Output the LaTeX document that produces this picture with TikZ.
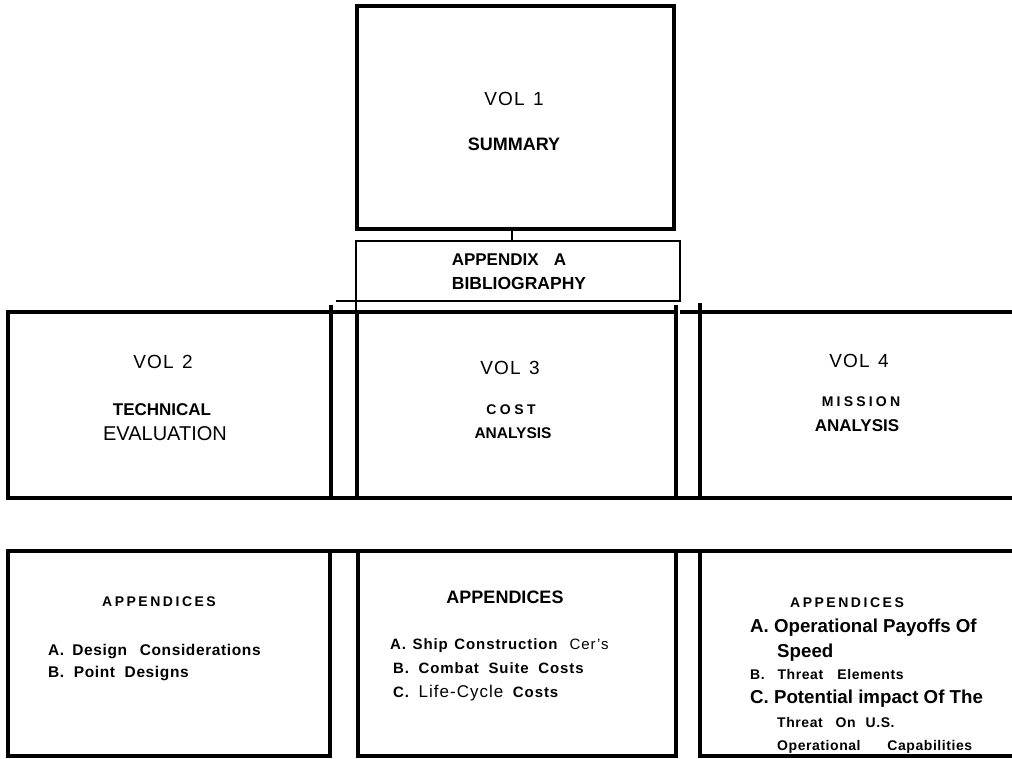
\documentclass[tikz,border=0pt]{standalone}
\usepackage{fontspec}
\setmainfont{Liberation Sans}
\usetikzlibrary{calc}

\newcommand\fs[1]{\fontsize{#1}{#1}\selectfont}
\newcommand\track[1]{\addfontfeature{LetterSpace=#1}}

\tikzset{
  box/.style={draw=black, line width=4pt, inner sep=0pt, outer sep=0pt, anchor=north west},
  lightbox/.style={box, line width=1.6pt},
  rule/.style={line width=4pt},
  hair/.style={line width=1.6pt},
  txt/.style={inner sep=0pt, anchor=base},
  item/.style={inner sep=0pt, anchor=base west}
}

\begin{document}
\begin{tikzpicture}[x=1pt, y=-1pt]
  \useasboundingbox[fill=white] (0,0) rectangle (1012,758);

  % volume 1 and its bibliography appendix
  \node[box, minimum width=317pt, minimum height=223pt] (v1) at (357,6) {};
  \node[lightbox, minimum width=324pt, minimum height=60pt] (appA) at (356,241) {};
  \coordinate (tick) at ($(v1.south)+(-3.5,0)$);
  \draw[hair] (tick) -- (tick |- appA.north);
  \draw[hair] (appA.south west) -- ++(-20,0);
  \draw[hair] (appA.south west) -- ++(0,52);

  % volumes 2 to 4
  \node[box, minimum width=323pt, minimum height=186pt] (v2) at (8,312) {};
  \node[box, minimum width=319pt, minimum height=186pt] (v3) at (357,312) {};
  \node[box, minimum width=340pt, minimum height=186pt] (v4) at (700,312) {};
  \draw[rule] (v2.north east) -- (v3.north west);
  \draw[rule] ($(v3.north east)+(4,0)$) -- (v4.north west);
  \draw[rule] (v2.south east) -- (v3.south west);
  \draw[rule] (v3.south east) -- (v4.south west);
  \draw[rule] (v2.north east) -- ++(0,-7);
  \draw[rule] (v3.north east) -- ++(0,-7);
  \draw[rule] (v4.north west) -- ++(0,-9);

  % appendix boxes
  \node[box, minimum width=322pt, minimum height=205pt] (a2) at (8,551) {};
  \node[box, minimum width=318pt, minimum height=205pt] (a3) at (358,551) {};
  \node[box, minimum width=340pt, minimum height=205pt] (a4) at (700,551) {};
  \draw[rule] (a2.north east) -- (a3.north west);
  \draw[rule] (a3.north east) -- (a4.north west);

  % volume titles
  \node[txt, font=\fs{19}\track{6}] (t1a) at (514,105) {VOL\hspace{0.45em}1};
  \node[txt, font=\fs{18}\bfseries] (t1b) at (514,150) {SUMMARY};
  \node[txt, font=\fs{17}\bfseries] (tAa) at (509,265) {APPENDIX\hspace{0.9em}A};
  \node[txt, font=\fs{17.5}\bfseries] (tAb) at (519,289) {BIBLIOGRAPHY};

  \node[txt, font=\fs{19}\track{6}] (t2a) at (163,368) {VOL\hspace{0.45em}2};
  \node[txt, font=\fs{17}\bfseries] (t2b) at (162,415) {TECHNICAL};
  \node[txt, font=\fs{20}] (t2c) at (165,440) {EVALUATION};

  \node[txt, font=\fs{19}\track{6}] (t3a) at (510,374) {VOL\hspace{0.45em}3};
  \node[txt, font=\fs{14}\bfseries\track{25}] (t3b) at (511,414) {COST};
  \node[txt, font=\fs{15.5}\bfseries] (t3c) at (513,438) {ANALYSIS};

  \node[txt, font=\fs{19}\track{6}] (t4a) at (859,367) {VOL\hspace{0.45em}4};
  \node[txt, font=\fs{14}\bfseries\track{23}] (t4b) at (861,406) {MISSION};
  \node[txt, font=\fs{17}\bfseries] (t4c) at (857,431) {ANALYSIS};

  % appendix lists
  \node[txt, font=\fs{14}\bfseries\track{18}] (l2h) at (159,606) {APPENDICES};
  \node[item, font=\fs{15.5}\bfseries\track{4}] (l2a) at (48,655) {A.\hspace{0.2em} Design\hspace{0.5em} Considerations};
  \node[item, font=\fs{15.5}\bfseries\track{4}] (l2b) at (48,677) {B.\hspace{0.3em} Point\hspace{0.3em} Designs};

  \node[txt, font=\fs{18}\bfseries] (l3h) at (505,603) {APPENDICES};
  \node[item, font=\fs{15}\bfseries\track{6}] (l3a) at (390,649) {A.\hspace{0.1em} Ship\hspace{0.1em} Construction\hspace{0.8em}{\mdseries Cer's}};
  \node[item, font=\fs{15}\bfseries\track{6}] (l3b) at (393,673) {B.\hspace{0.3em} Combat\hspace{0.3em} Suite\hspace{0.3em} Costs};
  \node[item, font=\fs{15}\bfseries\track{6}] (l3c) at (393,697) {C.\hspace{0.3em} {\mdseries\fs{17}Life-Cycle}\hspace{0.3em} Costs};

  \node[txt, font=\fs{14}\bfseries\track{18}] (l4h) at (847,607) {APPENDICES};
  \node[item, font=\fs{18.7}\bfseries] (l4a) at (750,632) {A. Operational Payoffs Of};
  \node[item, font=\fs{18.7}\bfseries] (l4b) at (777,657) {Speed};
  \node[item, font=\fs{14}\bfseries\track{4}] (l4c) at (750,679) {B.\hspace{0.6em} Threat\hspace{0.7em} Elements};
  \node[item, font=\fs{18.7}\bfseries] (l4d) at (750,703) {C. Potential impact Of The};
  \node[item, font=\fs{14}\bfseries\track{4}] (l4e) at (777,727) {Threat\hspace{0.6em} On\hspace{0.4em} U.S.};
  \node[item, font=\fs{14}\bfseries\track{4}] (l4f) at (777,750) {Operational\hspace{1.6em} Capabilities};
\end{tikzpicture}
\end{document}
